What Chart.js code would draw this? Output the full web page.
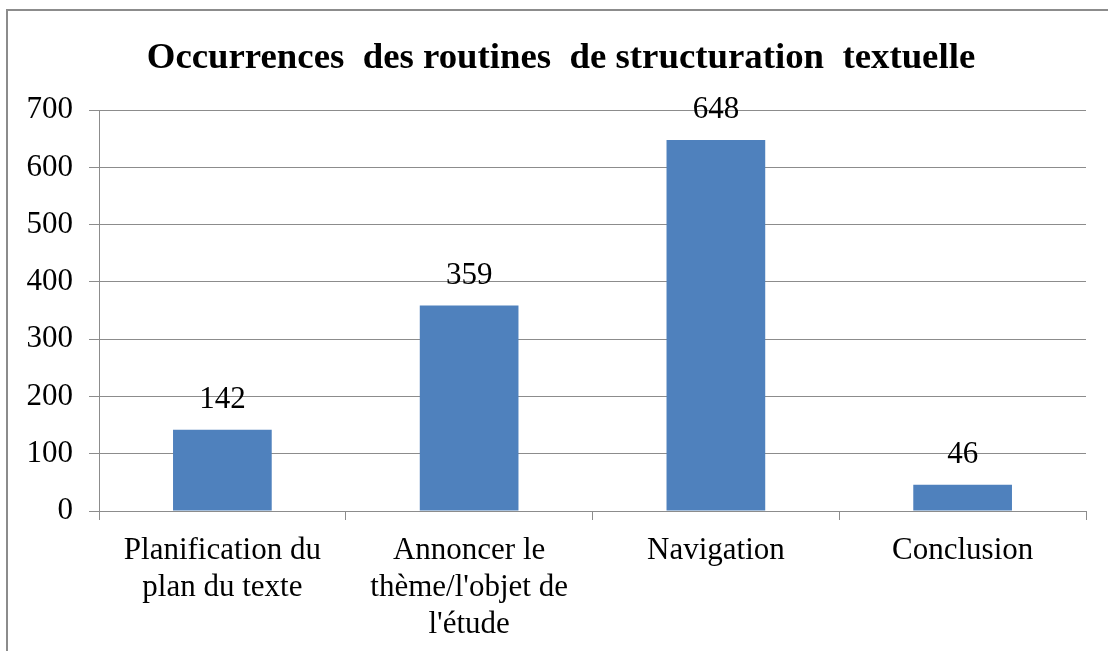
<!DOCTYPE html>
<html>
<head>
<meta charset="utf-8">
<script src="https://cdn.jsdelivr.net/npm/chart.js@4"></script>
<style>
  html, body { margin: 0; padding: 0; background: #fff; }
  #wrap { position: relative; width: 1108px; height: 651px; overflow: hidden; }
  #frame { position: absolute; left: 6px; top: 9px; width: 1200px; height: 700px; border: 2px solid #8c8c8c; box-sizing: border-box; }
  canvas { position: absolute; left: 0; top: 0; }
</style>
</head>
<body>
<div id="wrap">
  <div id="frame"></div>
  <canvas id="occChart" width="1108" height="651"></canvas>
</div>
<script>
const categories = [
  ['Planification du', 'plan du texte'],
  ['Annoncer le', "thème/l'objet de", "l'étude"],
  'Navigation',
  'Conclusion'
];
const occurrences = [142, 359, 648, 46];
const yTicks = [0, 100, 200, 300, 400, 500, 600, 700];

const serif = '"Liberation Serif", "Times New Roman", serif';
const gridGray = '#8c8c8c';

// draws the value above each bar
const valueLabels = {
  id: 'valueLabels',
  afterDatasetsDraw(chart) {
    const ctx = chart.ctx;
    const meta = chart.getDatasetMeta(0);
    ctx.save();
    ctx.font = '31px ' + serif;
    ctx.fillStyle = '#000';
    ctx.textAlign = 'center';
    ctx.textBaseline = 'middle';
    meta.data.forEach((bar, i) => {
      ctx.fillText(String(chart.data.datasets[0].data[i]), bar.x, bar.y - 30);
    });
    ctx.restore();
  }
};

// title sits centred on the outer frame, not on the whole canvas
const shiftTitle = {
  id: 'shiftTitle',
  afterLayout(chart) {
    if (chart.titleBlock) chart.titleBlock.left += 28;
  }
};

new Chart(document.getElementById('occChart'), {
  type: 'bar',
  data: {
    labels: categories,
    datasets: [{
      data: occurrences,
      backgroundColor: '#4F81BD',
      borderWidth: 0,
      categoryPercentage: 1,
      barPercentage: 0.4
    }]
  },
  options: {
    responsive: false,
    animation: false,
    layout: { padding: { left: 8, right: 22, top: 10, bottom: 0 } },
    plugins: {
      legend: { display: false },
      tooltip: { enabled: false },
      title: {
        display: true,
        text: 'Occurrences  des routines  de structuration  textuelle',
        color: '#000',
        font: { family: serif, size: 36.8, weight: 'bold', lineHeight: 1.2 },
        padding: { top: 26, bottom: 30 }
      }
    },
    scales: {
      x: {
        afterFit(scale) { scale.height = 140; },
        border: { color: gridGray, width: 1 },
        grid: { drawOnChartArea: false, drawTicks: true, offset: true, tickLength: 9, color: gridGray },
        ticks: { color: '#000', padding: 13, font: { family: serif, size: 31, lineHeight: 1.18 }, maxRotation: 0, autoSkip: false }
      },
      y: {
        min: 0,
        max: 700,
        afterFit(scale) { scale.width = 91; },
        afterBuildTicks(scale) { scale.ticks = yTicks.map(v => ({ value: v })); },
        border: { color: gridGray, width: 1 },
        grid: { color: gridGray, tickLength: 10 },
        ticks: { color: '#000', padding: 16, font: { family: serif, size: 31 } }
      }
    }
  },
  plugins: [valueLabels, shiftTitle]
});
</script>
</body>
</html>
